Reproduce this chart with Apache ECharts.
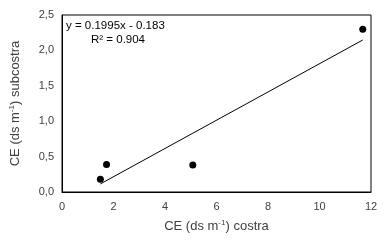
<!DOCTYPE html>
<html>
<head>
<meta charset="utf-8">
<script src="https://cdn.jsdelivr.net/npm/echarts@6/dist/echarts.min.js"></script>
<style>
  html, body { margin: 0; padding: 0; background: #fff; }
  #chart { width: 387px; height: 248px; }
</style>
</head>
<body>
<div id="chart"></div>
<script>
// valores
const costra = [1.49, 1.73, 5.08, 11.68]
const subcostra = [0.18, 0.39, 0.38, 2.30]
// extremos de la línea de tendencia
const trendX = [1.49, 11.68]
const trendY = [0.114, 2.147]
const xTicks = [0, 2, 4, 6, 8, 10, 12]
const yTicks = ['0,0', '0,5', '1,0', '1,5', '2,0', '2,5']

const font = 'Liberation Sans, Arial, sans-serif'
const textColor = '#404040'
const supStyle = { fontSize: 8, verticalAlign: 'top', color: textColor, fontFamily: font, padding: [0, 0, 6, 0] }

const chart = echarts.init(document.getElementById('chart'))

chart.setOption({
  animation: false,
  grid: {
    left: 59,
    right: 16,
    top: 15,
    bottom: 56,
    show: true,
    borderColor: '#000',
    borderWidth: 1
  },
  xAxis: {
    type: 'value',
    min: xTicks[0],
    max: xTicks[xTicks.length - 1],
    interval: 2,
    splitLine: { show: false },
    axisTick: { show: false },
    axisLine: { lineStyle: { color: '#000' } },
    axisLabel: { color: textColor, fontFamily: font, fontSize: 11, margin: 9 },
    name: 'CE (ds m{sup|-1}) costra',
    nameLocation: 'middle',
    nameGap: 27,
    nameTextStyle: { color: textColor, fontFamily: font, fontSize: 13, rich: { sup: supStyle } }
  },
  yAxis: {
    type: 'value',
    min: 0,
    max: 2.5,
    interval: 0.5,
    splitLine: { show: false },
    axisTick: { show: false },
    axisLine: { show: true, lineStyle: { color: '#000' } },
    axisLabel: {
      color: textColor, fontFamily: font, fontSize: 11, margin: 8,
      formatter: (v, i) => yTicks[i]
    },
    name: 'CE (ds m{sup|-1}) subcostra',
    nameLocation: 'middle',
    nameGap: 40,
    nameTextStyle: { color: textColor, fontFamily: font, fontSize: 13, rich: { sup: supStyle } }
  },
  graphic: [
    {
      type: 'text',
      left: 66,
      top: 20,
      style: { text: 'y = 0.1995x - 0.183', fill: '#000', font: '11.5px ' + font }
    },
    {
      type: 'text',
      left: 91,
      top: 34,
      style: { text: 'R² = 0.904', fill: '#000', font: '11.5px ' + font }
    }
  ],
  series: [
    {
      type: 'line',
      data: trendX.map((x, i) => [x, trendY[i]]),
      showSymbol: false,
      lineStyle: { color: '#000', width: 1 },
      z: 2
    },
    {
      type: 'scatter',
      data: costra.map((x, i) => [x, subcostra[i]]),
      symbolSize: 7,
      itemStyle: { color: '#000', opacity: 1 },
      z: 3
    }
  ]
})
</script>
</body>
</html>
